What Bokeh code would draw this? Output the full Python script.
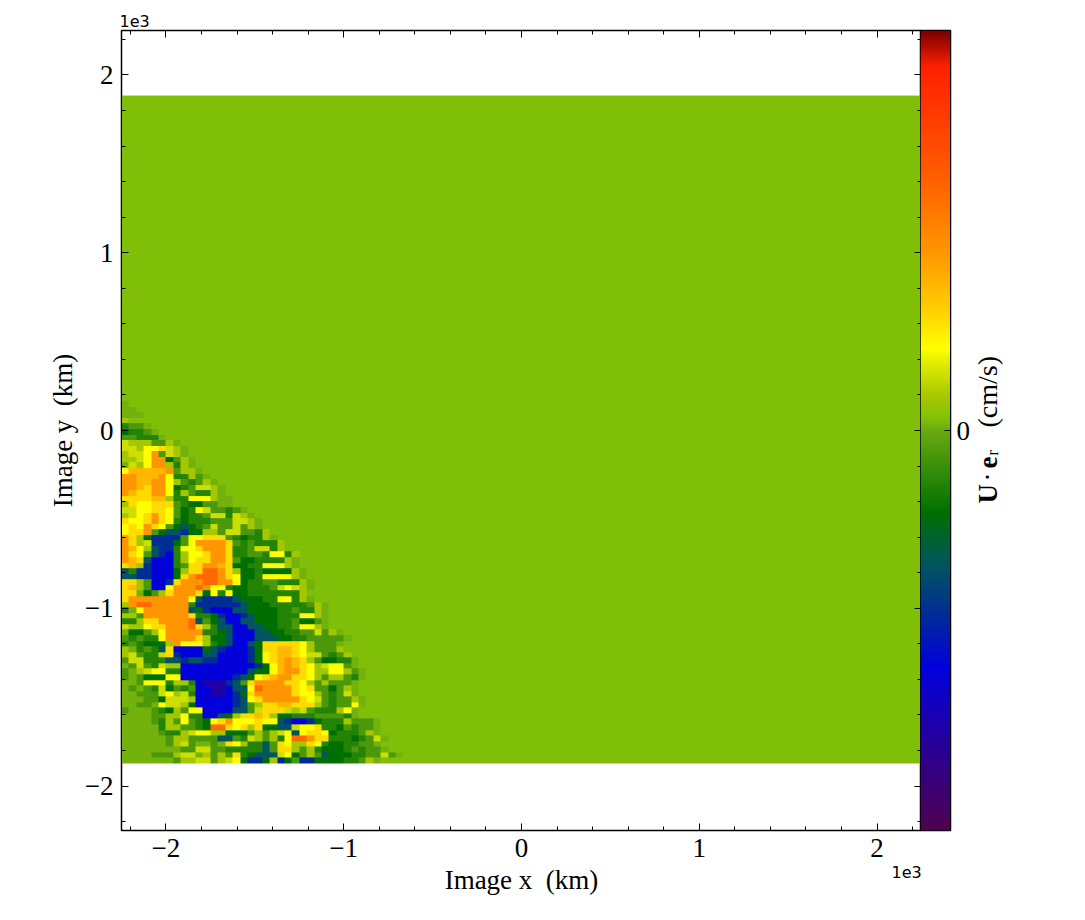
import numpy as np
from bokeh.plotting import figure
from bokeh.layouts import row, column
from bokeh.core.properties import value
from bokeh.models import LinearColorMapper, LinearAxis, SingleIntervalTicker, FixedTicker, Range1d
from bokeh.embed import file_html
from bokeh.resources import INLINE

# Rows, top to bottom, from the left edge, in groups of five cells;
# the rest of each row is the background level.
CELL_ROWS = [
 "m","mm","mmm","a","Gggm","DGGgm","ggGGG m","baaag gam","bbayy zbam",
 "abbyO gbam","aabyO ODgam","mbayO OaGam","yoooo oOgaa m","OOooo OyGGa gm","OOooO OyagG gam",
 "OOozO OyDGg bbam","OozzO OyGag GGam","zzzzo oaGGy yyamm","azyyz zzgGD Dggmm","bbyyz zygDG ybggG gm",
 "abyzO zygDG GgbbG bam","zyyzO zyGDG GGggg bbam","yzyOz ygDTD Ggbgg bgam","yzzOg DTTBD Daagb bggGa",
 "OzaDB BBBgy yzzzg GDGGa m","OzabB BBDgy OOOOz gGgGG Ga","OoyaT BBGyy zOOOz GGgbb Ga","OzygT BUGay yzOOz GGggG yyGa",
 "OozTU UUGay zzOOz gDDGG GGam","zoaBU UUGgz zOOoz DDGGy yyam","TGBBU UUDaz zrrOz aDDGD DDDam",
 "TTBBU UUDzO rrrOz yDDGy yyyam","zzagU UBzOO OrrOO yDGGg gGGGa m",
 "zoagU UyOOO rOyyG DDGGG gbyba m","zzmDg azOOO zDyGy DDGGG GGGGa","zOOOO OOOOy TBBBB TDDDG GyyGa m",
 "aOrrO OOOOG BBBBB BTDDD GGGGG gam","GmyOO OOOOT DBUUU TTDDD DGGgG Gam","aagOO OOOOz GGDBU UBTDD DGGGy yam",
 "GGazz OOOOr TgDTU UTTDD DGGgD Dgm","baayz zOOOr zaGTT UUTTD DGGgy yam","mDDga yOOOO OGGDT UUUTT DDGGg gbgam",
 "gGgGG yOOOO zaDDT UUUTT TDDGG gggggm","GgGDD DaOyy yaGDT UUTDz zzzzy agggm","amGgG TzUUU UDTBU UUBDz zoozy aggga",
 "abgGG bzBUU UTTUU UUBDy zoozy bbgGg a","gbbGG GTTBT TBBUU UUBDy zoOoz agDDG Gm","mgbgG baaUU UUUUU UUUBD yoOoz yabyy gm",
 "gmaby yGGUU UUUUU UUTDD yoOOz yaayy agm","gmgDD DyyUU UUUUU BTDyz oOOzz yagaa gGm","mmgyy yGaaG UPPPB TgzOO OOzzy agagg gm",
 "mgmgG bDgGg UUPPU TTyrO OOOzy zggDg am","mmggg byabG UUPPU BDzOO OOOzy yagGg bm","mmmgg Dbbba UUUUU BTyzO OOOOz ybgGg gam",
 "mmggm ybbaD UUUUU BTgaz zoozz zagGg gym","gmmmg GDagy yUUUU TTgbz zzbab gGGGa ym","mmmmg gaayG GUUTD azzoz aDDGG Ggggg Gm",
 "mmmmg Gagyg GDyzO yyyzy yTBUU BDGGG agggm","mmmmm Gaagg GDrrz yzazD DTTby yzGGD gGggm","mmmmm gGGab yyaaD DDgag abyTy zzyDG GGgam",
 "mmmmm mgaag gggTT gGbag aGyrr OzzGG GDGgbm","mmmmm mgabg mmgmz yaGGT gzyaa zyGDD GGggm","mmmmm mmmgg bbggG GGGGT gzzag aGDDD GgGgg m",
 "mmmmg ggabb magag zGDTT TbyDg agTDD DGGgg bgm","mmmmm mmgaa bbgab yDBBD aBDgB BDDDD GGgam",
]
LEVELS = {".": 0.03, "m": 0.014, "g": -0.06, "G": -0.14, "D": -0.205, "T": -0.34, "B": -0.46, "U": -0.595, "P": -0.76,
          "a": 0.08, "b": 0.14, "y": 0.208, "z": 0.28, "o": 0.36, "O": 0.45, "r": 0.60}
N_ROWS, N_COLS = 120, 108
STOPS = [(0.0,"#500050"),(0.0875,"#2d008c"),(0.2025,"#0000dd"),(0.275,"#003090"),(0.33,"#005560"),(0.3975,"#007000"),
         (0.5,"#6aa810"),(0.515,"#82c107"),(0.544,"#a8c800"),(0.604,"#ffff00"),(0.65,"#ffd000"),(0.725,"#ff9500"),
         (0.825,"#ff5a00"),(0.956,"#ff2000"),(1.0,"#7f0000")]
TICK_LABELS = {-2: "\u22122", -1: "\u22121", 0: "0", 1: "1", 2: "2"}
BLANK_LABELS = {k: "" for k in TICK_LABELS}
FONT = "Liberation Serif"
FS = "27px"

def palette():
    pos = [s[0] for s in STOPS]
    rgb = np.array([[int(s[1][i:i+2], 16) for i in (1, 3, 5)] for s in STOPS], float)
    t = np.linspace(0, 1, 256)
    ch = np.stack([np.interp(t, pos, rgb[:, i]) for i in range(3)], axis=1).round().astype(int)
    return ["#%02x%02x%02x" % tuple(c) for c in ch]

field = np.full((N_ROWS, N_COLS), LEVELS["."])
for t, txt in enumerate(CELL_ROWS):
    r = len(CELL_ROWS) - 1 - t
    for c_i, ch in enumerate(txt.replace(" ", "")):
        field[r, c_i] = LEVELS[ch]

mapper = LinearColorMapper(palette=palette(), low=-1, high=1)

p = figure(frame_width=800, frame_height=800, x_range=Range1d(-2.25, 2.25), y_range=Range1d(-2.25, 2.25),
           output_backend="svg", toolbar_location=None, min_border_left=121, min_border_top=30,
           min_border_bottom=88, min_border_right=0, x_axis_location="below", y_axis_location="left")
p.image(image=[field], x=-2.25, y=-1.873, dw=4.5, dh=3.757, color_mapper=mapper)
p.grid.visible = False
p.outline_line_color = "black"
p.outline_line_width = 1.5

def style(ax):
    ax.ticker = SingleIntervalTicker(interval=1, num_minor_ticks=5)
    ax.major_tick_in = 7; ax.major_tick_out = 0
    ax.minor_tick_in = 4; ax.minor_tick_out = 0
    ax.axis_line_color = "black"; ax.axis_line_width = 1
    ax.major_tick_line_color = "black"; ax.minor_tick_line_color = "black"
    ax.major_label_text_font = FONT
    ax.major_label_text_font_size = FS
    ax.major_label_text_color = "black"
    ax.axis_label_text_font = FONT
    ax.axis_label_text_font_size = FS
    ax.axis_label_text_font_style = "normal"
    ax.axis_label_text_color = "black"

for ax in (p.xaxis[0], p.yaxis[0]):
    style(ax)
    ax.major_label_overrides = TICK_LABELS
p.xaxis[0].major_label_standoff = 8
p.yaxis[0].major_label_standoff = 8
p.xaxis[0].axis_label = "Image x\u00a0\u00a0(km)"
p.yaxis[0].axis_label = "Image y\u00a0\u00a0(km)"
p.xaxis[0].axis_label_standoff = 5
p.yaxis[0].axis_label_standoff = 4
for side in ("above", "right"):
    ax = LinearAxis()
    style(ax)
    ax.major_label_overrides = BLANK_LABELS
    ax.major_label_standoff = 0
    ax.major_label_text_font_size = "0px"
    p.add_layout(ax, side)

c = figure(frame_width=30, frame_height=800, x_range=Range1d(0, 1), y_range=Range1d(-1, 1),
           output_backend="svg", toolbar_location=None, min_border_left=0, min_border_top=30,
           min_border_bottom=88, min_border_right=70, x_axis_location=None, y_axis_location="right",
           margin=(0, 0, 0, -1))
c.image(image=[np.linspace(-1, 1, 256)[:, None]], x=0, y=-1, dw=1, dh=2, color_mapper=mapper)
c.grid.visible = False
c.outline_line_color = "black"
c.outline_line_width = 1.5
ya = c.yaxis[0]
ya.ticker = FixedTicker(ticks=[0])
ya.major_label_overrides = {0: "0"}
ya.major_tick_in = 6; ya.major_tick_out = 0; ya.minor_tick_line_color = None
ya.axis_line_color = "black"; ya.major_tick_line_color = "black"
ya.major_label_text_font = FONT; ya.major_label_text_font_size = FS; ya.major_label_text_color = "black"
ya.major_label_standoff = 6

# Transparent text layer laid over the charts, in page pixels
W, H = 1030, 918
o = figure(width=W, height=H, x_range=Range1d(0, W), y_range=Range1d(H, 0), output_backend="svg", toolbar_location=None,
           min_border=0, x_axis_location=None, y_axis_location=None, margin=(-H, 0, 0, 0),
           background_fill_color=None, border_fill_color=None, outline_line_color=None)
o.grid.visible = False
o.text(x=[119, 891], y=[20, 871], text=["1e3", "1e3"], text_font=value("DejaVu Sans"), text_font_size="16px",
       text_color="black", text_baseline="alphabetic")

def vlabel(xp, yp, text, size=27, style_="normal"):
    o.text(x=[xp], y=[yp], text=[text], angle=np.pi / 2, text_font=value(FONT), text_font_size=f"{size}px",
           text_font_style=style_, text_color="black", text_baseline="alphabetic")
vlabel(987, 503, "U", 27, "bold")
vlabel(987, 481, "\u00b7", 27)
vlabel(987, 468, "e", 27, "bold")
vlabel(992, 455, "r", 16)
vlabel(987, 427, "(cm/s)", 28)

layout = column(row(p, c, spacing=0), o, spacing=0)
open("out.html", "w").write(file_html(layout, INLINE))
